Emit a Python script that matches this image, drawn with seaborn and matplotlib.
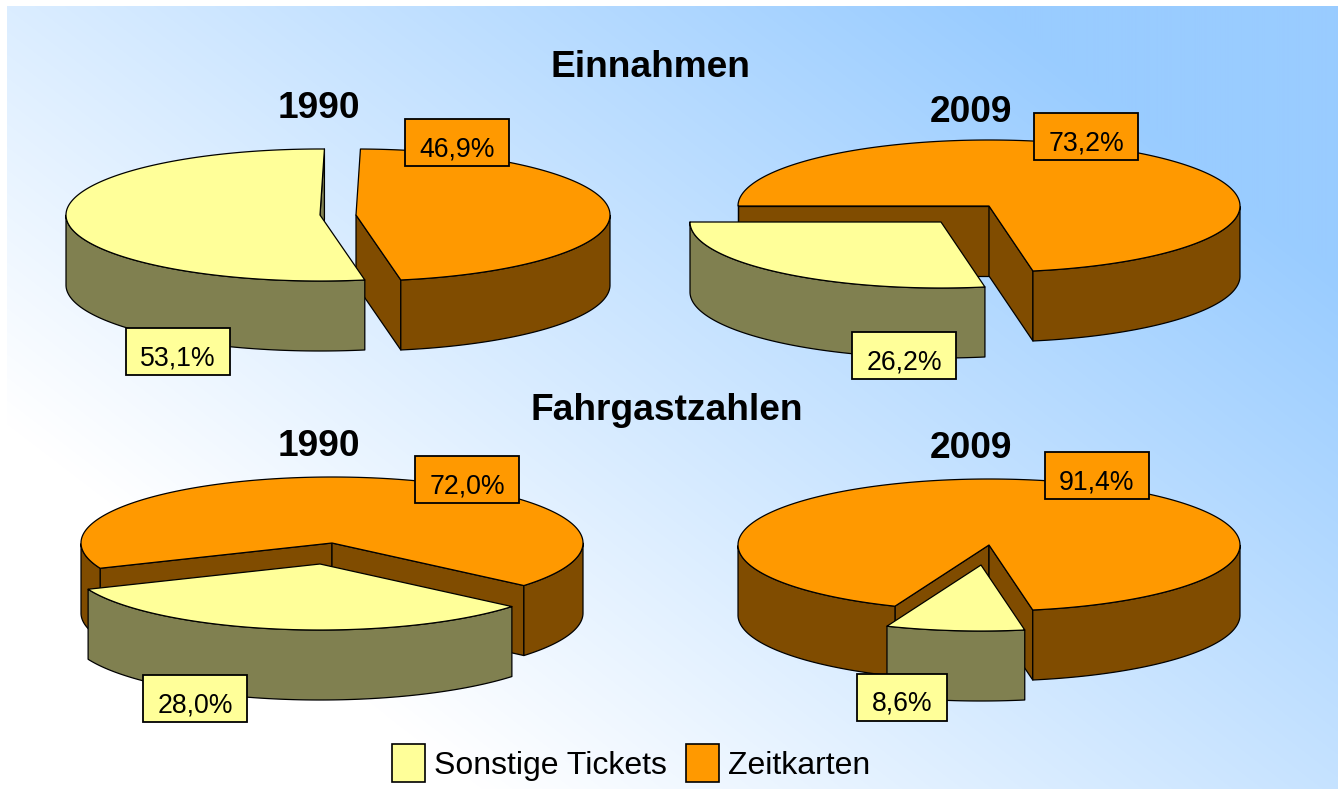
import numpy as np
import matplotlib
matplotlib.use("Agg")
import matplotlib.pyplot as plt
from matplotlib.patches import Polygon, Patch, Rectangle
from matplotlib.colors import to_rgb
import seaborn as sns

sns.set_theme(style="white")
plt.rcParams["font.family"] = ["Liberation Sans", "DejaVu Sans"]
plt.rcParams["text.color"] = "black"

# values printed on the chart
group_titles = ["Einnahmen", "Fahrgastzahlen"]
years = ["1990", "2009", "1990", "2009"]
series_names = ["Sonstige Tickets", "Zeitkarten"]
sonstige = [53.1, 26.2, 28.0, 8.6]
zeitkarten = [46.9, 73.2, 72.0, 91.4]

# yellow share as it is really drawn (the 3D slices
# do not quite follow the printed numbers, 1990 Fahrgastzahlen most of all)
sonstige_drawn = [53.1, 27.8, 32.6, 8.9]

# layout, all in image pixels
W, H = 1338, 789
zeit_start = [1, 270, 247.5, 202]  # degrees clockwise from 12 o'clock
zeit_apex = [(356, 215), (989, 206), (332, 543), (989, 545)]
sonst_apex = [(320, 215), (941, 222), (320, 564), (981, 565)]
radius_x = [254, 251, 251, 251]
zeit_label_xy = [(457, 142), (1086, 136), (467, 479), (1097, 475)]
sonst_label_xy = [(178, 351), (904, 355), (195, 698), (902, 697)]
year_xy = [(319, 108), (971, 112), (319, 446), (971, 448)]
title_xy = [(650, 67), (667, 410)]
RY, DEPTH = 66, 70

YELLOW, OLIVE = "#FFFF99", "#808050"
ORANGE, BROWN = "#FF9900", "#804C00"
pal = sns.color_palette([YELLOW, ORANGE])


def rim(cx, cy, rx, deg):
    t = np.radians(deg)
    return np.column_stack([cx + rx * np.sin(t), cy - RY * np.cos(t)])


def slice3d(ax, apex, rx, a0, a1, top_col, side_col, z):
    cx, cy = apex
    down = np.array([0, DEPTH])
    kw = dict(edgecolor="black", linewidth=0.9, joinstyle="round")

    # cut faces, only if they look towards the viewer
    for a, normal in [(a0, a0 - 90), (a1, a1 + 90)]:
        if np.cos(np.radians(normal)) < 0:
            p0 = np.array([cx, cy])
            p1 = rim(cx, cy, rx, a)[0]
            ax.add_patch(Polygon([p0, p1, p1 + down, p0 + down],
                                 facecolor=side_col, zorder=z, **kw))

    # outer wall, front half of the ellipse only
    ang = np.linspace(a0, a1, 400)
    front = np.cos(np.radians(ang)) < 0
    idx = np.where(front)[0]
    if len(idx):
        for seg in np.split(idx, np.where(np.diff(idx) > 1)[0] + 1):
            pts = rim(cx, cy, rx, ang[seg])
            ax.add_patch(Polygon(np.vstack([pts, (pts + down)[::-1]]),
                                 facecolor=side_col, zorder=z + 0.1, **kw))

    # top
    ax.add_patch(Polygon(np.vstack([[cx, cy], rim(cx, cy, rx, ang)]),
                         facecolor=top_col, zorder=z + 0.2, **kw))


fig = plt.figure(figsize=(W / 100, H / 100), dpi=100, facecolor="white")
ax = fig.add_axes([0, 0, 1, 1])

# background gradient
xx, yy = np.meshgrid(np.arange(W), np.arange(H))
t = np.clip(0.36 + 0.00065 * xx - 0.00085 * yy, 0, 1)[..., None]
bg = 1 + t * (np.array(to_rgb("#99CCFF")) - 1)
ax.imshow(bg[6:], extent=[7, W, H, 6], aspect="auto", zorder=0)
ax.set_xlim(0, W)
ax.set_ylim(H, 0)
ax.axis("off")

renderer = fig.canvas.get_renderer()

for i in range(4):
    a0 = zeit_start[i]
    a1 = a0 + (100 - sonstige_drawn[i]) * 3.6
    slice3d(ax, zeit_apex[i], radius_x[i], a0, a1, ORANGE, BROWN, 2)
    slice3d(ax, sonst_apex[i], radius_x[i], a1, a0 + 360, YELLOW, OLIVE, 3)

    ax.text(*year_xy[i], years[i], fontsize=26.7, fontweight="bold",
            ha="center", va="center", zorder=6)
    for xy, val, col in [(zeit_label_xy[i], zeitkarten[i], ORANGE),
                         (sonst_label_xy[i], sonstige[i], YELLOW)]:
        lab = ax.text(xy[0], xy[1] + 4, f"{val:.1f}%".replace(".", ","),
                      fontsize=19.2, ha="center", va="center_baseline",
                      zorder=8)
        bw = lab.get_window_extent(renderer).width + 29
        ax.add_patch(Rectangle((xy[0] - bw / 2, xy[1] - 23.5), bw, 47,
                               facecolor=col, edgecolor="black",
                               linewidth=1.3, zorder=7))

for xy, name in zip(title_xy, group_titles):
    ax.text(*xy, name, fontsize=26.7, fontweight="bold", ha="center",
            va="center", zorder=6)

handles = [Patch(facecolor=c, edgecolor="black", linewidth=1.2) for c in pal]
ax.legend(handles, series_names, ncol=2, frameon=False, fontsize=23,
          loc="center", bbox_to_anchor=(631, 763),
          bbox_transform=ax.transData, borderpad=0, borderaxespad=0,
          handlelength=1.03, handleheight=1.42, handletextpad=0.28,
          columnspacing=0.6, labelcolor="black")

fig.savefig("out.png", dpi=100, facecolor="white")
